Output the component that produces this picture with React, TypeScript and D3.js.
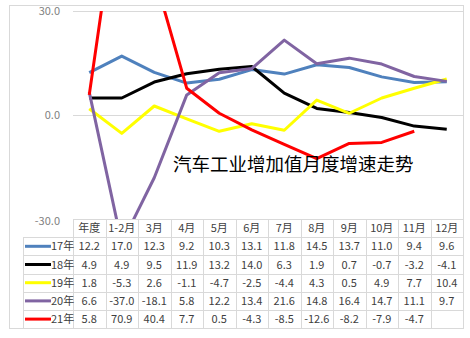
import React, { useEffect, useRef } from "react";
import * as d3 from "d3";

const categories = ["年度", "1-2月", "3月", "4月", "5月", "6月", "7月", "8月", "9月", "10月", "11月", "12月"];
const seriesNames = ["17年", "18年", "19年", "20年", "21年"];
const seriesColors = ["#4f81bd", "#000000", "#ffff00", "#8064a2", "#ff0000"];
const s17 = [12.2, 17.0, 12.3, 9.2, 10.3, 13.1, 11.8, 14.5, 13.7, 11.0, 9.4, 9.6];
const s18 = [4.9, 4.9, 9.5, 11.9, 13.2, 14.0, 6.3, 1.9, 0.7, -0.7, -3.2, -4.1];
const s19 = [1.8, -5.3, 2.6, -1.1, -4.7, -2.5, -4.4, 4.3, 0.5, 4.9, 7.7, 10.4];
const s20 = [6.6, -37.0, -18.1, 5.8, 12.2, 13.4, 21.6, 14.8, 16.4, 14.7, 11.1, 9.7];
const s21 = [5.8, 70.9, 40.4, 7.7, 0.5, -4.3, -8.5, -12.6, -8.2, -7.9, -4.7, null];
const yTicks = [30, 0, -30];
const title = "汽车工业增加值月度增速走势";

export default function App() {
  const ref = useRef<SVGSVGElement>(null);

  useEffect(() => {
    const svg = d3.select(ref.current);
    svg.selectAll("*").remove();
    const font = "'Noto Sans CJK SC', 'Noto Sans', sans-serif";
    const series = [s17, s18, s19, s20, s21];

    const left = 73, right = 463, top = 11, bottom = 219;
    const rowH = 18.2;
    const legendLeft = 23;

    const x = d3.scaleBand().domain(categories).range([left, right]).padding(0);
    const y = d3.scaleLinear().domain([-30, 30]).range([bottom, top]);

    // outer frame
    svg.append("rect")
      .attr("x", 9.5).attr("y", 5.5).attr("width", 454).attr("height", 323)
      .attr("fill", "#fff").attr("stroke", "#d9d9d9");

    // grid
    svg.selectAll(".grid").data(yTicks).enter().append("line")
      .attr("x1", left).attr("x2", right)
      .attr("y1", (d) => Math.round(y(d)) + 0.5).attr("y2", (d) => Math.round(y(d)) + 0.5)
      .attr("stroke", "#d9d9d9");

    svg.selectAll(".ylab").data(yTicks).enter().append("text")
      .attr("x", 60).attr("y", (d) => y(d) + (d === -30 ? 6 : 4))
      .attr("text-anchor", "end").attr("font-family", font).attr("font-size", 11)
      .attr("fill", "#7f7f7f").text((d) => d.toFixed(1));

    // lines
    svg.append("clipPath").attr("id", "plotclip").append("rect")
      .attr("x", left).attr("y", top).attr("width", right - left).attr("height", bottom - top);

    const line = d3.line<number | null>()
      .defined((d) => d !== null)
      .x((_, i) => (x(categories[i]) as number) + x.bandwidth() / 2)
      .y((d) => y(d as number));

    svg.append("g").attr("clip-path", "url(#plotclip)")
      .selectAll("path").data(series).enter().append("path")
      .attr("d", (d) => line(d))
      .attr("fill", "none")
      .attr("stroke", (_, i) => seriesColors[i])
      .attr("stroke-width", 3)
      .attr("stroke-linejoin", "round");

    // title
    svg.append("text")
      .attr("x", 173).attr("y", 171)
      .attr("font-family", font).attr("font-size", 18.5).attr("fill", "#000")
      .text(title);

    // table
    const tbl = svg.append("g");
    const gridColor = "#d9d9d9";
    const tableBottom = bottom + rowH * 6;
    // horizontal lines
    for (let r = 0; r <= 6; r++) {
      const yy = Math.round(bottom + r * rowH) + 0.5;
      tbl.append("line")
        .attr("x1", r === 0 ? left : legendLeft).attr("x2", right)
        .attr("y1", yy).attr("y2", yy).attr("stroke", gridColor);
    }
    // vertical lines
    const vx = [left, ...categories.map((c) => (x(c) as number) + x.bandwidth())];
    vx.forEach((v) => {
      tbl.append("line")
        .attr("x1", Math.round(v) + 0.5).attr("x2", Math.round(v) + 0.5)
        .attr("y1", bottom).attr("y2", tableBottom).attr("stroke", gridColor);
    });
    tbl.append("line")
      .attr("x1", legendLeft + 0.5).attr("x2", legendLeft + 0.5)
      .attr("y1", bottom + rowH).attr("y2", tableBottom).attr("stroke", gridColor);

    // header
    tbl.selectAll(".hdr").data(categories).enter().append("text")
      .attr("x", (d) => (x(d) as number) + x.bandwidth() / 2)
      .attr("y", bottom + rowH / 2 + 4)
      .attr("text-anchor", "middle").attr("font-family", font).attr("font-size", 11)
      .attr("fill", "#404040").text((d) => d);

    series.forEach((s, i) => {
      const cy = bottom + rowH * (i + 1) + rowH / 2;
      tbl.append("line")
        .attr("x1", 25).attr("x2", 51).attr("y1", cy).attr("y2", cy)
        .attr("stroke", seriesColors[i]).attr("stroke-width", 3);
      tbl.append("text")
        .attr("x", 51).attr("y", cy + 4)
        .attr("font-family", font).attr("font-size", 11).attr("fill", "#404040")
        .text(seriesNames[i]);
      tbl.selectAll(".v" + i).data(s).enter().append("text")
        .attr("x", (_, j) => (x(categories[j]) as number) + x.bandwidth() / 2)
        .attr("y", cy + 4)
        .attr("text-anchor", "middle").attr("font-family", font).attr("font-size", 11)
        .attr("fill", "#404040")
        .text((d) => (d === null ? "" : d.toFixed(1)));
    });
  }, []);

  return (
    <div>
      <svg ref={ref} width={470} height={338} style={{ position: "absolute", left: 0, top: 0 }}></svg>
    </div>
  );
}
